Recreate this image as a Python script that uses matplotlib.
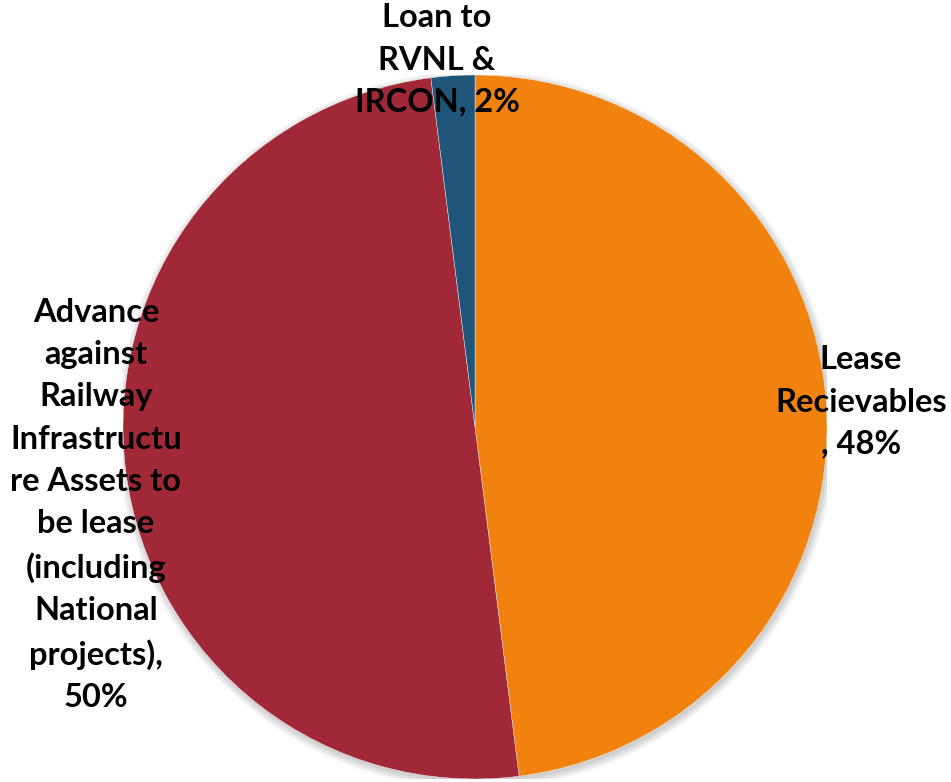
import matplotlib.pyplot as plt
from matplotlib.patches import Circle

# data
labels = ["Lease\nRecievables\n, 48%",
          "Advance\nagainst\nRailway\nInfrastructu\nre Assets to\nbe lease\n(including\nNational\nprojects),\n50%",
          "Loan to\nRVNL &\nIRCON, 2%"]
values = [48, 50, 2]
colors = ["#F0820D", "#A02837", "#1E5578"]

W, H = 951, 782
fig = plt.figure(figsize=(W / 100, H / 100), dpi=100)

# pie centre (475, 427) px, radius 352 px
cx, cy, r = 475, 427, 352
ax = fig.add_axes([(cx - r) / W, (H - cy - r) / H, 2 * r / W, 2 * r / H])

wedges, _ = ax.pie(values, colors=colors, startangle=90, counterclock=False,
                   radius=1.0, wedgeprops=dict(linewidth=0.3, edgecolor="#f4f4f4"))
for w in wedges:
    w.set_zorder(2)

# soft shadow
for i in range(8):
    ax.add_patch(Circle((0.004, -0.008), 1.0 + 0.003 * i, color="black",
                        alpha=0.025, lw=0, zorder=0))

ax.set_aspect("auto")
ax.set_xlim(-1, 1)
ax.set_ylim(-1, 1)
ax.axis("off")

fnt = dict(family="Lato", weight="bold", fontsize=23.5, color="black",
           ha="center", va="center", linespacing=1.55, zorder=5)

def px(x, y):
    return ((x - cx) / r, (cy - y) / r)

ax.text(*px(861, 402), labels[0], **fnt)
ax.text(*px(96, 505), labels[1], **fnt)
ax.text(*px(437, 60), labels[2], **fnt)

fig.savefig("out.png", dpi=100)
